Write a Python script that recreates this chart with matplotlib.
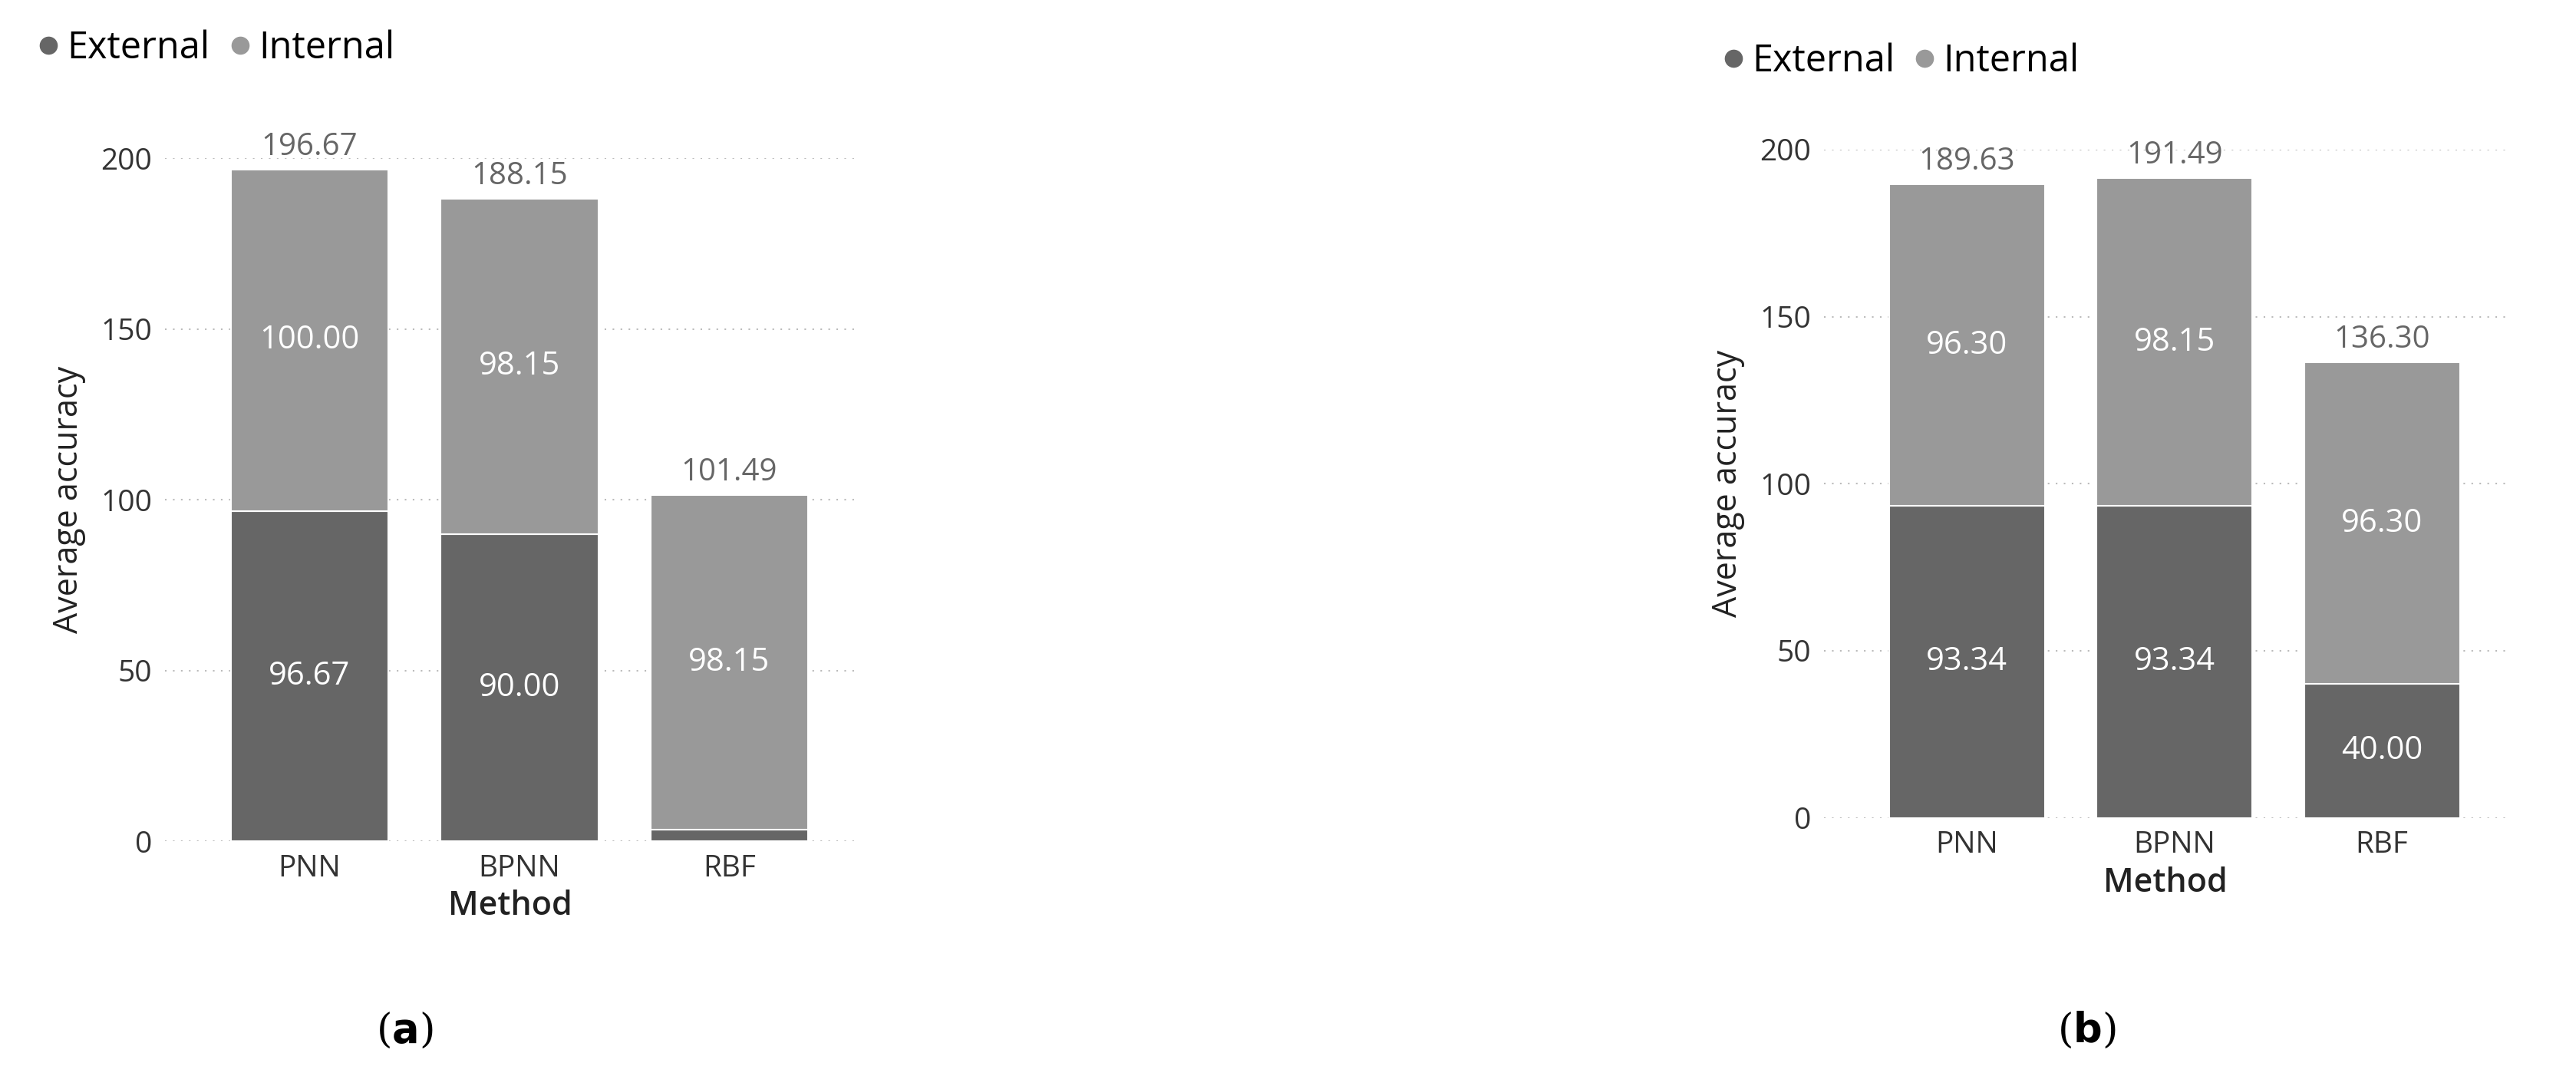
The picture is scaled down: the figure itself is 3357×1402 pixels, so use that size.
import matplotlib
matplotlib.use("Agg")
import matplotlib.pyplot as plt
from matplotlib.lines import Line2D

methods = ["PNN", "BPNN", "RBF"]
ext_a = [96.67, 90.00, 3.34]
int_a = [100.00, 98.15, 98.15]
tot_a = [196.67, 188.15, 101.49]
ext_b = [93.34, 93.34, 40.00]
int_b = [96.30, 98.15, 96.30]
tot_b = [189.63, 191.49, 136.30]

plt.rcParams['font.family'] = ['Open Sans', 'DejaVu Sans']
DARK, LIGHT = "#666666", "#999999"
fig = plt.figure(figsize=(33.57, 14.02), dpi=100)

def panel(rect, ext, inn, tot, legxy, cap, capx):
    ax = fig.add_axes(rect)
    x = range(len(methods))
    ax.bar(x, ext, 0.75, color=DARK, edgecolor="white", linewidth=1.5)
    ax.bar(x, inn, 0.75, bottom=ext, color=LIGHT, edgecolor="white", linewidth=1.5)
    for i in x:
        if ext[i] > 10:
            ax.text(i, ext[i] / 2, f"{ext[i]:.2f}", ha="center", va="center", color="white", fontsize=30)
        ax.text(i, ext[i] + inn[i] / 2, f"{inn[i]:.2f}", ha="center", va="center", color="white", fontsize=30)
        ax.text(i, tot[i] + 2, f"{tot[i]:.2f}", ha="center", va="bottom", color="#666666", fontsize=29)
    ax.set_xlim(-0.69, 2.6)
    ax.set_ylim(0, 200)
    ax.set_yticks([0, 50, 100, 150, 200])
    ax.set_xticks(list(x))
    ax.set_xticklabels(methods)
    ax.tick_params(length=0, labelsize=28, colors="#333333", pad=12)
    ax.grid(axis="y", linestyle=(0, (1, 4)), color="#bbbbbb", linewidth=1.5)
    ax.set_axisbelow(True)
    for s in ax.spines.values():
        s.set_visible(False)
    ax.set_ylabel("Average accuracy", fontsize=31, color="#222222", labelpad=14)
    ax.set_xlabel("Method", fontsize=31, color="#222222", fontweight="semibold", labelpad=6)
    handles = [Line2D([], [], marker="o", ls="", color=DARK, markersize=16),
               Line2D([], [], marker="o", ls="", color=LIGHT, markersize=16)]
    fig.legend(handles, ["External", "Internal"], loc="center left", bbox_to_anchor=legxy,
               ncol=2, frameon=False, fontsize=35, handletextpad=0.1, columnspacing=0.4,
               handlelength=0.8)
    fig.text(capx, 0.042, cap, ha="center", va="center", fontsize=38, family="DejaVu Serif")

panel([0.064, 0.218, 0.268, 0.635], ext_a, int_a, tot_a, (0.0, 0.955), r"($\bf{a}$)", 0.157)
panel([0.708, 0.240, 0.265, 0.621], ext_b, int_b, tot_b, (0.654, 0.943), r"($\bf{b}$)", 0.81)

fig.savefig("out.png", dpi=100, facecolor="white")
